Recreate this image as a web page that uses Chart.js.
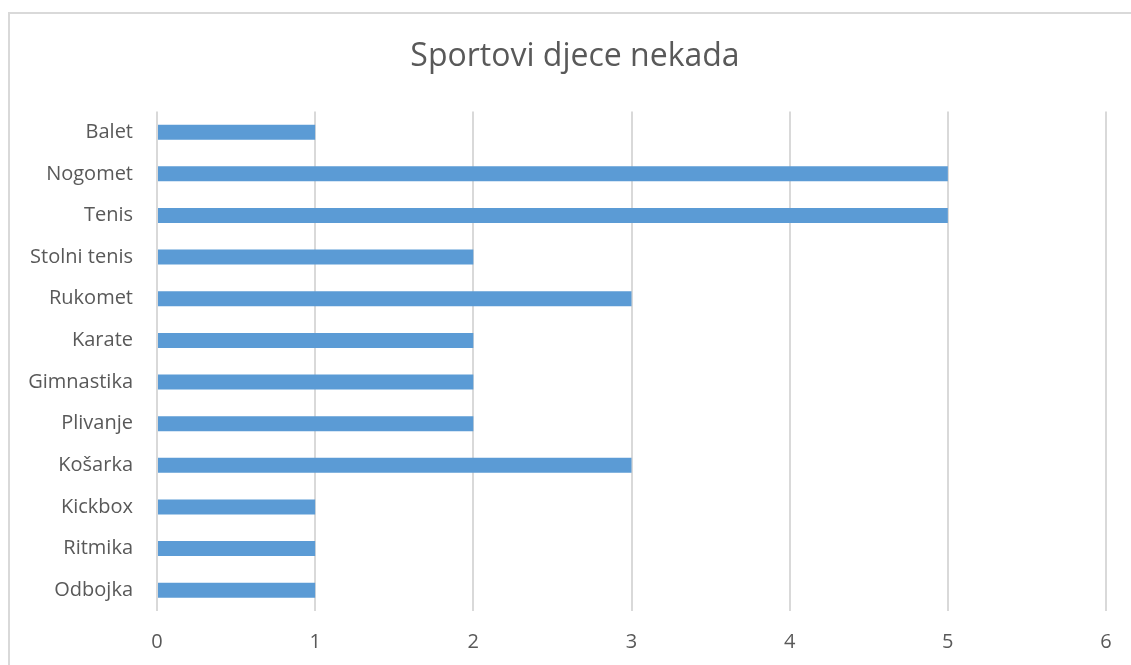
<!DOCTYPE html>
<html>
<head>
<meta charset="utf-8">
<script src="https://cdn.jsdelivr.net/npm/chart.js@4"></script>
<style>
  html, body { margin: 0; padding: 0; background: #fff; overflow: hidden; }
  #frame {
    position: absolute; left: 8px; top: 12px;
    width: 1140px; height: 670px;
    border: 2px solid #d9d9d9; box-sizing: border-box;
  }
  #wrap { position: absolute; left: 10px; top: 14px; width: 1121px; height: 651px; }
</style>
</head>
<body>
<div id="frame"></div>
<div id="wrap"><canvas id="sportChart"></canvas></div>
<script>
const categories = ["Balet", "Nogomet", "Tenis", "Stolni tenis", "Rukomet", "Karate",
  "Gimnastika", "Plivanje", "Košarka", "Kickbox", "Ritmika", "Odbojka"];
const counts = [1, 5, 5, 2, 3, 2, 2, 2, 3, 1, 1, 1];
const xTicks = [0, 1, 2, 3, 4, 5, 6];

const textColor = "#595959";
const fontName = "'Open Sans', 'Noto Sans', sans-serif";

// nudge the title a bit right, like the original
const titleShift = {
  id: "titleShift",
  afterLayout(chart) {
    if (chart.titleBlock) {
      chart.titleBlock.left += 17;
      chart.titleBlock.right += 17;
    }
  },
};

const ctx = document.getElementById("sportChart").getContext("2d");
new Chart(ctx, {
  type: "bar",
  data: {
    labels: categories,
    datasets: [{
      label: "Sportovi",
      data: counts,
      backgroundColor: "#5b9bd5",
      barPercentage: 0.36,
      categoryPercentage: 1,
    }],
  },
  options: {
    indexAxis: "y",
    responsive: true,
    maintainAspectRatio: false,
    animation: false,
    layout: { padding: { left: 0, right: 25, top: 0, bottom: 0 } },
    plugins: {
      legend: { display: false },
      tooltip: { enabled: false },
      title: {
        display: true,
        text: "Sportovi djece nekada",
        color: textColor,
        font: { family: fontName, size: 32, weight: "normal" },
        padding: { top: 24, bottom: 35 },
      },
    },
    scales: {
      x: {
        min: 0,
        max: 6,
        afterBuildTicks: (axis) => { axis.ticks = xTicks.map((v) => ({ value: v })); },
        afterFit: (axis) => { axis.height = 54; },
        grid: { color: "#d9d9d9", lineWidth: 2, drawTicks: false },
        border: { display: false },
        ticks: { color: textColor, padding: 19, font: { family: fontName, size: 20 } },
      },
      y: {
        afterFit: (axis) => { axis.width = 147; },
        grid: { display: false },
        border: { display: false },
        ticks: { color: textColor, padding: 16, font: { family: fontName, size: 20 } },
      },
    },
  },
  plugins: [titleShift],
});
</script>
</body>
</html>
